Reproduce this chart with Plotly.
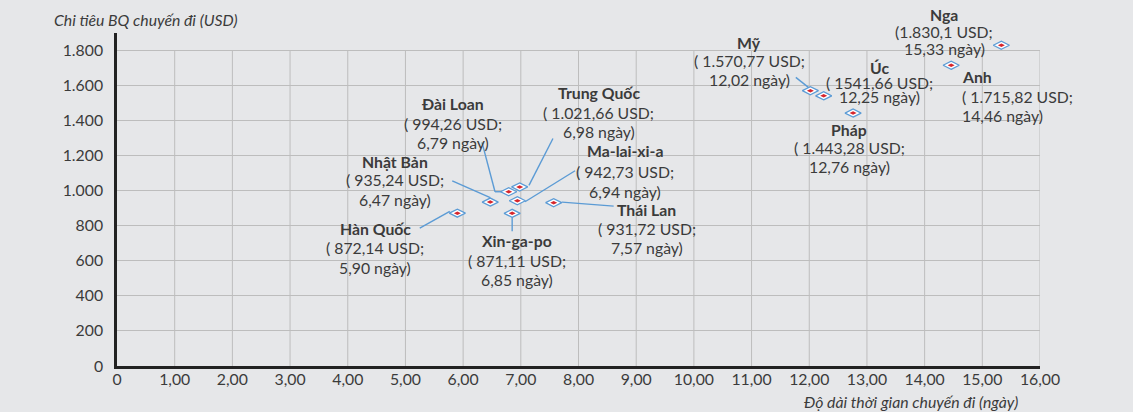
import plotly.graph_objects as go

# ---------------- data ----------------
countries = ["Hàn Quốc", "Nhật Bản", "Đài Loan", "Trung Quốc", "Ma-lai-xi-a",
             "Xin-ga-po", "Thái Lan", "Mỹ", "Úc", "Pháp", "Anh", "Nga"]
days = [5.90, 6.47, 6.79, 6.98, 6.94, 6.85, 7.57, 12.02, 12.25, 12.76, 14.46, 15.33]
spend = [872.14, 935.24, 994.26, 1021.66, 942.73, 871.11, 931.72,
         1570.77, 1541.66, 1443.28, 1715.82, 1830.1]
usd_text = ["( 872,14 USD;", "( 935,24 USD;", "( 994,26 USD;", "( 1.021,66 USD;",
            "( 942,73 USD;", "( 871,11 USD;", "( 931,72 USD;", "( 1.570,77 USD;",
            "( 1541,66 USD;", "( 1.443,28 USD;", "( 1.715,82 USD;", "(1.830,1 USD;"]
day_text = ["5,90 ngày)", "6,47 ngày)", "6,79 ngày)", "6,98 ngày)", "6,94 ngày)",
            "6,85 ngày)", "7,57 ngày)", "12,02 ngày)", "12,25 ngày)", "12,76 ngày)",
            "14,46 ngày)", "15,33 ngày)"]
x_tickvals = list(range(0, 17))
x_ticktext = ["0"] + [f"{v},00" for v in range(1, 17)]
y_tickvals = [0, 200, 400, 600, 800, 1000, 1200, 1400, 1600, 1800]
y_ticktext = ["0", "200", "400", "600", "800", "1.000", "1.200", "1.400", "1.600", "1.800"]
x_title = "Độ dài thời gian chuyến đi (ngày)"
y_title = "Chi tiêu BQ chuyến đi (USD)"

# ---------------- label layout (pixel offsets from point; dy down-positive) ----------------
label_pos = {
    "Hàn Quốc":    (-82, [15, 34, 54], "center"),
    "Nhật Bản":    (-95, [-41, -23, -3], "center"),
    "Đài Loan":    (-56, [-88, -68.5, -49.5], "center"),
    "Trung Quốc":  (79, [-94, -74, -55], "center"),
    "Ma-lai-xi-a": (108, [-50, -29.5, -9.5], "center"),
    "Xin-ga-po":   (5, [27.5, 47, 66], "center"),
    "Thái Lan":    (93, [6.5, 26, 45], "center"),
    "Mỹ":          (-61, [-48.5, -30, -11], "center"),
    "Úc":          (56, [-28, -13.5, 1], "center"),
    "Pháp":        (-4, [16, 34.5, 53.5], "center"),
    "Anh":         (9, [11.5, 31.5, 50], "left"),
    "Nga":         (-57, [-31, -13.5, 3.5], "center"),
}
# leader segments (pixel offsets from point, dy down-positive)
leaders = {
    "Hàn Quốc": [(-37.6, 15, -7.6, -1.7)],
    "Nhật Bản": [(-38, -21.3, 0, -4.5)],
    "Đài Loan": [(-26.7, -49.3, -13.7, 0), (-13.7, 0, -7, 0)],
    "Trung Quốc": [(33.3, -48.4, 9.3, -1.5)],
    "Ma-lai-xi-a": [(57.7, -30, 7.7, 1)],
    "Thái Lan": [(8.3, -0.6, 60, 3.4)],
    "Xin-ga-po": [(0, 4, 0, 18)],
    "Mỹ": [(-14.6, -13.3, -2, -3.3)],
}

FONT = "Lato, 'Open Sans', sans-serif"
FS = 15.8
TXT = "#3b3b3b"
BG = "#e6e7e9"
BLUE = "#5b9bd5"
RED = "#d7262c"
GRID = "#bdbdbd"

fig = go.Figure()
fig.add_trace(go.Scatter(
    x=days, y=spend, mode="markers", cliponaxis=False,
    marker=dict(symbol="diamond-wide", size=11.5, color="white",
                line=dict(color=BLUE, width=1.3)),
    hoverinfo="skip", showlegend=False))
fig.add_trace(go.Scatter(
    x=days, y=spend, mode="markers", cliponaxis=False,
    marker=dict(symbol="diamond-wide", size=5, color=RED, line=dict(width=0)),
    text=countries, hoverinfo="text", showlegend=False))

annotations = []
shapes = []
# vertical grid lines stop at the top y tick
for xv in x_tickvals[1:]:
    shapes.append(dict(type="line", xref="x", yref="y", x0=xv, x1=xv,
                       y0=0, y1=y_tickvals[-1], layer="below",
                       line=dict(color=GRID, width=1)))

for name, xd, yd, l2, l3 in zip(countries, days, spend, usd_text, day_text):
    dx, dys, anchor = label_pos[name]
    lines = [f"<b>{name}</b>", l2, l3]
    for txt, dy in zip(lines, dys):
        annotations.append(dict(
            x=xd, y=yd, xref="x", yref="y", text=txt, showarrow=False,
            xshift=dx, yshift=-dy, xanchor=anchor, yanchor="middle",
            font=dict(family=FONT, size=FS, color=TXT)))
    for (x0, y0, x1, y1) in leaders.get(name, []):
        shapes.append(dict(
            type="line", xref="x", yref="y", xsizemode="pixel", ysizemode="pixel",
            xanchor=xd, yanchor=yd, x0=x0, x1=x1, y0=-y0, y1=-y1,
            line=dict(color=BLUE, width=1.4)))

annotations.append(dict(
    x=0, y=1, xref="paper", yref="paper", text=y_title, showarrow=False,
    xanchor="left", yanchor="bottom", xshift=-65, yshift=2,
    font=dict(family=FONT, size=FS, color=TXT, style="italic")))
annotations.append(dict(
    x=1, y=0, xref="paper", yref="paper", text=x_title, showarrow=False,
    xanchor="right", yanchor="top", xshift=-20, yshift=-24,
    font=dict(family=FONT, size=FS, color=TXT, style="italic")))

fig.update_layout(
    width=1133, height=412,
    margin=dict(l=117, r=93, t=33, b=46),
    paper_bgcolor=BG, plot_bgcolor=BG,
    annotations=annotations, shapes=shapes,
    font=dict(family=FONT, size=FS, color=TXT),
)
fig.update_xaxes(
    range=[0, 16], tickvals=x_tickvals, ticktext=x_ticktext,
    showgrid=False,
    showline=True, linecolor="#222222", linewidth=2.5,
    zeroline=False, ticks="", ticklabelstandoff=-3,
    tickfont=dict(size=FS, color=TXT))
fig.update_yaxes(
    range=[0, 1900], tickvals=y_tickvals, ticktext=y_ticktext,
    showgrid=True, gridcolor=GRID, gridwidth=1,
    showline=True, linecolor="#222222", linewidth=2.5,
    zeroline=False, ticks="outside", ticklen=8, tickcolor=BG,
    tickfont=dict(size=FS, color=TXT))

fig.write_html("out.html", config={"displayModeBar": False},
               post_script="document.body.style.margin='0';document.body.style.background='%s';" % BG)
